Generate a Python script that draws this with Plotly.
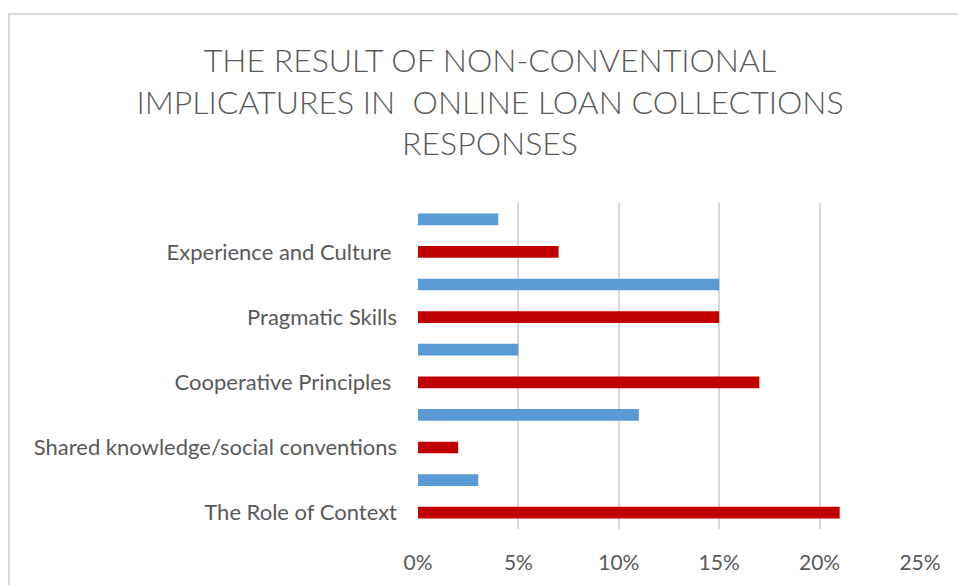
import plotly.graph_objects as go

categories = ["The Role of Context", "Shared knowledge/social conventions",
              "Cooperative Principles ", "Pragmatic Skills", "Experience and Culture "]
red_values = [0.21, 0.02, 0.17, 0.15, 0.07]
blue_values = [0.03, 0.11, 0.05, 0.15, 0.04]
x_ticks = [0, 0.05, 0.10, 0.15, 0.20, 0.25]

title_text = ("THE RESULT OF NON-CONVENTIONAL<br>IMPLICATURES IN \u00a0ONLINE LOAN COLLECTIONS"
              "<br>RESPONSES")

pos = list(range(len(categories)))
fig = go.Figure()
fig.add_trace(go.Bar(x=red_values, y=pos, orientation="h", width=0.18,
                     marker=dict(color="#C00000", line=dict(width=0)), name="red"))
fig.add_trace(go.Bar(x=blue_values, y=[p + 0.5 for p in pos], orientation="h", width=0.18,
                     marker=dict(color="#5B9BD5", line=dict(width=0)), name="blue"))

fig.update_layout(
    width=958, height=585,
    margin=dict(l=418, r=38, t=203, b=56),
    paper_bgcolor="white", plot_bgcolor="white",
    showlegend=False,
    barmode="overlay",
    font=dict(family="Lato", color="#595959"),
    title=dict(text=title_text, xref="container", x=(208 + 772) / 2 / 958, xanchor="center",
               yref="container", y=1 - 72 / 585, yanchor="top",
               font=dict(family="Lato", size=32, color="#595959", weight=300)),
)
fig.update_xaxes(range=[0, 0.25], tickvals=x_ticks, tickformat=".0%",
                 showgrid=True, gridcolor="#d9d9d9", gridwidth=1.5,
                 zeroline=False, showline=False, ticks="",
                 tickfont=dict(size=21, color="#595959"), ticklabelstandoff=19)
fig.update_yaxes(range=[-0.25, 4.75], tickvals=pos, ticktext=categories,
                 showgrid=False, zeroline=False, showline=False, ticks="",
                 tickfont=dict(size=22, color="#595959"), ticklabelstandoff=20)

fig.add_shape(type="rect", xref="paper", yref="paper",
              x0=(9 - 418) / 502, x1=1.2, y0=-0.5, y1=(529 - 14) / 326,
              line=dict(color="#d9d9d9", width=2), fillcolor="rgba(0,0,0,0)", layer="below")

fig.write_html("out.html")
